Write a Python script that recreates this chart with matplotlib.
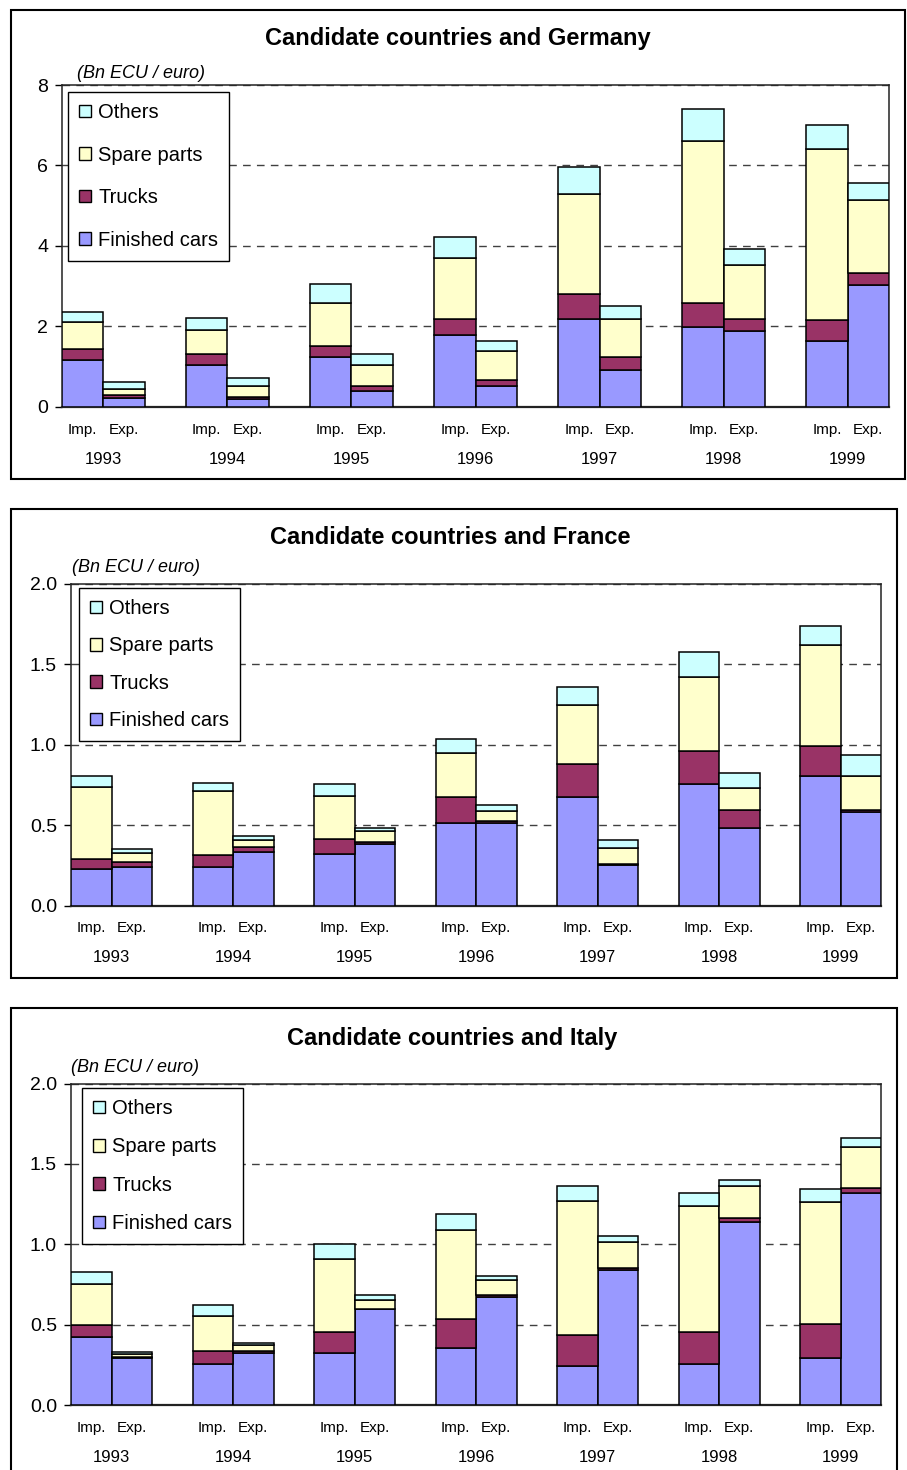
import matplotlib
matplotlib.use("Agg")
import matplotlib.pyplot as plt
import matplotlib.transforms as mtransforms
from matplotlib.patches import Rectangle, Patch

plt.rcParams['font.family'] = ['Liberation Sans', 'DejaVu Sans']

# ---------------- data ----------------
years = ['1993', '1994', '1995', '1996', '1997', '1998', '1999']
series = ['Finished cars', 'Trucks', 'Spare parts', 'Others']
colors = ['#9999FF', '#993366', '#FFFFCC', '#CCFFFF']
unit_label = '(Bn ECU / euro)'

# Germany (Bn ECU/euro)
de_imp_cars = [1.15, 1.03, 1.23, 1.78, 2.18, 1.98, 1.63]
de_imp_trucks = [0.27, 0.28, 0.27, 0.40, 0.61, 0.60, 0.51]
de_imp_spare = [0.68, 0.60, 1.08, 1.52, 2.50, 4.02, 4.26]
de_imp_others = [0.25, 0.28, 0.48, 0.51, 0.68, 0.80, 0.60]
de_exp_cars = [0.22, 0.18, 0.39, 0.51, 0.91, 1.89, 3.03]
de_exp_trucks = [0.06, 0.06, 0.12, 0.16, 0.31, 0.29, 0.30]
de_exp_spare = [0.16, 0.27, 0.52, 0.72, 0.96, 1.35, 1.80]
de_exp_others = [0.16, 0.20, 0.28, 0.24, 0.32, 0.40, 0.43]
de_ticks = [0, 2, 4, 6, 8]
de_ticklabels = ['0', '2', '4', '6', '8']

# France
fr_imp_cars = [0.23, 0.245, 0.325, 0.515, 0.675, 0.755, 0.805]
fr_imp_trucks = [0.06, 0.07, 0.09, 0.16, 0.21, 0.21, 0.19]
fr_imp_spare = [0.45, 0.40, 0.27, 0.275, 0.365, 0.46, 0.625]
fr_imp_others = [0.07, 0.05, 0.07, 0.09, 0.11, 0.15, 0.12]
fr_exp_cars = [0.245, 0.335, 0.385, 0.515, 0.255, 0.485, 0.585]
fr_exp_trucks = [0.03, 0.03, 0.015, 0.015, 0.008, 0.11, 0.012]
fr_exp_spare = [0.055, 0.045, 0.065, 0.06, 0.095, 0.14, 0.21]
fr_exp_others = [0.025, 0.025, 0.02, 0.04, 0.05, 0.09, 0.13]
fr_ticks = [0.0, 0.5, 1.0, 1.5, 2.0]
fr_ticklabels = ['0.0', '0.5', '1.0', '1.5', '2.0']

# Italy
it_imp_cars = [0.425, 0.255, 0.325, 0.355, 0.245, 0.255, 0.295]
it_imp_trucks = [0.07, 0.08, 0.13, 0.18, 0.19, 0.20, 0.21]
it_imp_spare = [0.26, 0.22, 0.455, 0.555, 0.835, 0.785, 0.755]
it_imp_others = [0.07, 0.07, 0.09, 0.10, 0.09, 0.08, 0.085]
it_exp_cars = [0.29, 0.322, 0.595, 0.67, 0.84, 1.14, 1.32]
it_exp_trucks = [0.008, 0.017, 0.005, 0.015, 0.013, 0.025, 0.03]
it_exp_spare = [0.017, 0.033, 0.055, 0.09, 0.16, 0.195, 0.255]
it_exp_others = [0.014, 0.014, 0.03, 0.03, 0.04, 0.04, 0.055]
it_ticks = [0.0, 0.5, 1.0, 1.5, 2.0]
it_ticklabels = ['0.0', '0.5', '1.0', '1.5', '2.0']

# ---------------- layout (pixels) ----------------
W, H = 907, 1470
fig = plt.figure(figsize=(W / 100, H / 100), dpi=100)


def fx(px):
    return px / W


def fy(py):
    return 1 - py / H


panels = [
    dict(title='Candidate countries and Germany',
         imp=[de_imp_cars, de_imp_trucks, de_imp_spare, de_imp_others],
         exp=[de_exp_cars, de_exp_trucks, de_exp_spare, de_exp_others],
         ticks=de_ticks, ticklabels=de_ticklabels,
         ax=(62, 889, 85, 406.5), border=(11, 905, 10, 479),
         title_xy=(458, 39), unit_xy=(77, 73), leg_xy=(68, 92), ls=1.17,
         imp_y=430, year_y=459),
    dict(title='Candidate countries and France',
         imp=[fr_imp_cars, fr_imp_trucks, fr_imp_spare, fr_imp_others],
         exp=[fr_exp_cars, fr_exp_trucks, fr_exp_spare, fr_exp_others],
         ticks=fr_ticks, ticklabels=fr_ticklabels,
         ax=(71, 881, 584, 906), border=(11, 897, 509, 978),
         title_xy=(450, 538), unit_xy=(72, 568), leg_xy=(79, 588), ls=0.91,
         imp_y=928, year_y=957),
    dict(title='Candidate countries and Italy',
         imp=[it_imp_cars, it_imp_trucks, it_imp_spare, it_imp_others],
         exp=[it_exp_cars, it_exp_trucks, it_exp_spare, it_exp_others],
         ticks=it_ticks, ticklabels=it_ticklabels,
         ax=(71, 881, 1083.5, 1405), border=(11, 897, 1008, 1480),
         title_xy=(452, 1038), unit_xy=(71, 1067), leg_xy=(82, 1088), ls=0.96,
         imp_y=1428, year_y=1457),
]

n = len(years)
imp_x = [3 * i for i in range(n)]
exp_x = [3 * i + 1 for i in range(n)]

for p in panels:
    L, R, T, B = p['ax']
    ax = fig.add_axes([fx(L), fy(B), (R - L) / W, (B - T) / H])
    bi = [0.0] * n
    be = [0.0] * n
    handles = []
    for k, name in enumerate(series):
        ax.bar(imp_x, p['imp'][k], width=1, align='edge', bottom=bi,
               color=colors[k], edgecolor='black', linewidth=1.1, zorder=3)
        ax.bar(exp_x, p['exp'][k], width=1, align='edge', bottom=be,
               color=colors[k], edgecolor='black', linewidth=1.1, zorder=3)
        bi = [a + b for a, b in zip(bi, p['imp'][k])]
        be = [a + b for a, b in zip(be, p['exp'][k])]
        handles.append(Patch(facecolor=colors[k], edgecolor='black', linewidth=1.0, label=name))

    ax.set_xlim(0, 20)
    ax.set_ylim(p['ticks'][0], p['ticks'][-1])
    ax.set_xticks([])
    ax.set_yticks(p['ticks'])
    ax.set_yticklabels(p['ticklabels'])
    ax.tick_params(axis='y', length=5, width=1, pad=5, labelsize=14, colors='black')
    ax.yaxis.grid(True, linestyle=(0, (5.5, 4.5)), color='#404040', linewidth=1.0, zorder=0)
    ax.set_axisbelow(True)
    for s in ['left', 'right', 'top']:
        ax.spines[s].set_linewidth(1.1)
        ax.spines[s].set_color('#222222')
    ax.spines['bottom'].set_linewidth(1.6)
    ax.spines['bottom'].set_color('#222222')

    trans = mtransforms.blended_transform_factory(ax.transData, fig.transFigure)
    for i, yr in enumerate(years):
        ax.text(imp_x[i] + 0.5, fy(p['imp_y']), 'Imp.', transform=trans,
                ha='center', va='center', fontsize=11)
        ax.text(exp_x[i] + 0.5, fy(p['imp_y']), 'Exp.', transform=trans,
                ha='center', va='center', fontsize=11)
        ax.text(imp_x[i] + 1, fy(p['year_y']), yr, transform=trans,
                ha='center', va='center', fontsize=12)

    leg = ax.legend(handles[::-1], series[::-1], loc='upper left',
                    bbox_to_anchor=(fx(p['leg_xy'][0]), fy(p['leg_xy'][1])),
                    bbox_transform=fig.transFigure, frameon=True, fancybox=False,
                    edgecolor='black', framealpha=1, fontsize=14.5,
                    handlelength=0.6, handleheight=0.6, handletextpad=0.35,
                    labelspacing=p['ls'], borderpad=0.55, borderaxespad=0)
    leg.get_frame().set_linewidth(1.0)
    leg.set_zorder(10)

    fig.text(fx(p['title_xy'][0]), fy(p['title_xy'][1]), p['title'],
             ha='center', va='center', fontsize=17, fontweight='bold')
    fig.text(fx(p['unit_xy'][0]), fy(p['unit_xy'][1]), unit_label,
             ha='left', va='center', fontsize=13, style='italic')

    bx0, bx1, by0, by1 = p['border']
    fig.add_artist(Rectangle((fx(bx0), fy(by1)), (bx1 - bx0) / W, (by1 - by0) / H,
                             transform=fig.transFigure, fill=False,
                             edgecolor='black', linewidth=1.5))

fig.savefig('out.png', dpi=100, facecolor='white')
